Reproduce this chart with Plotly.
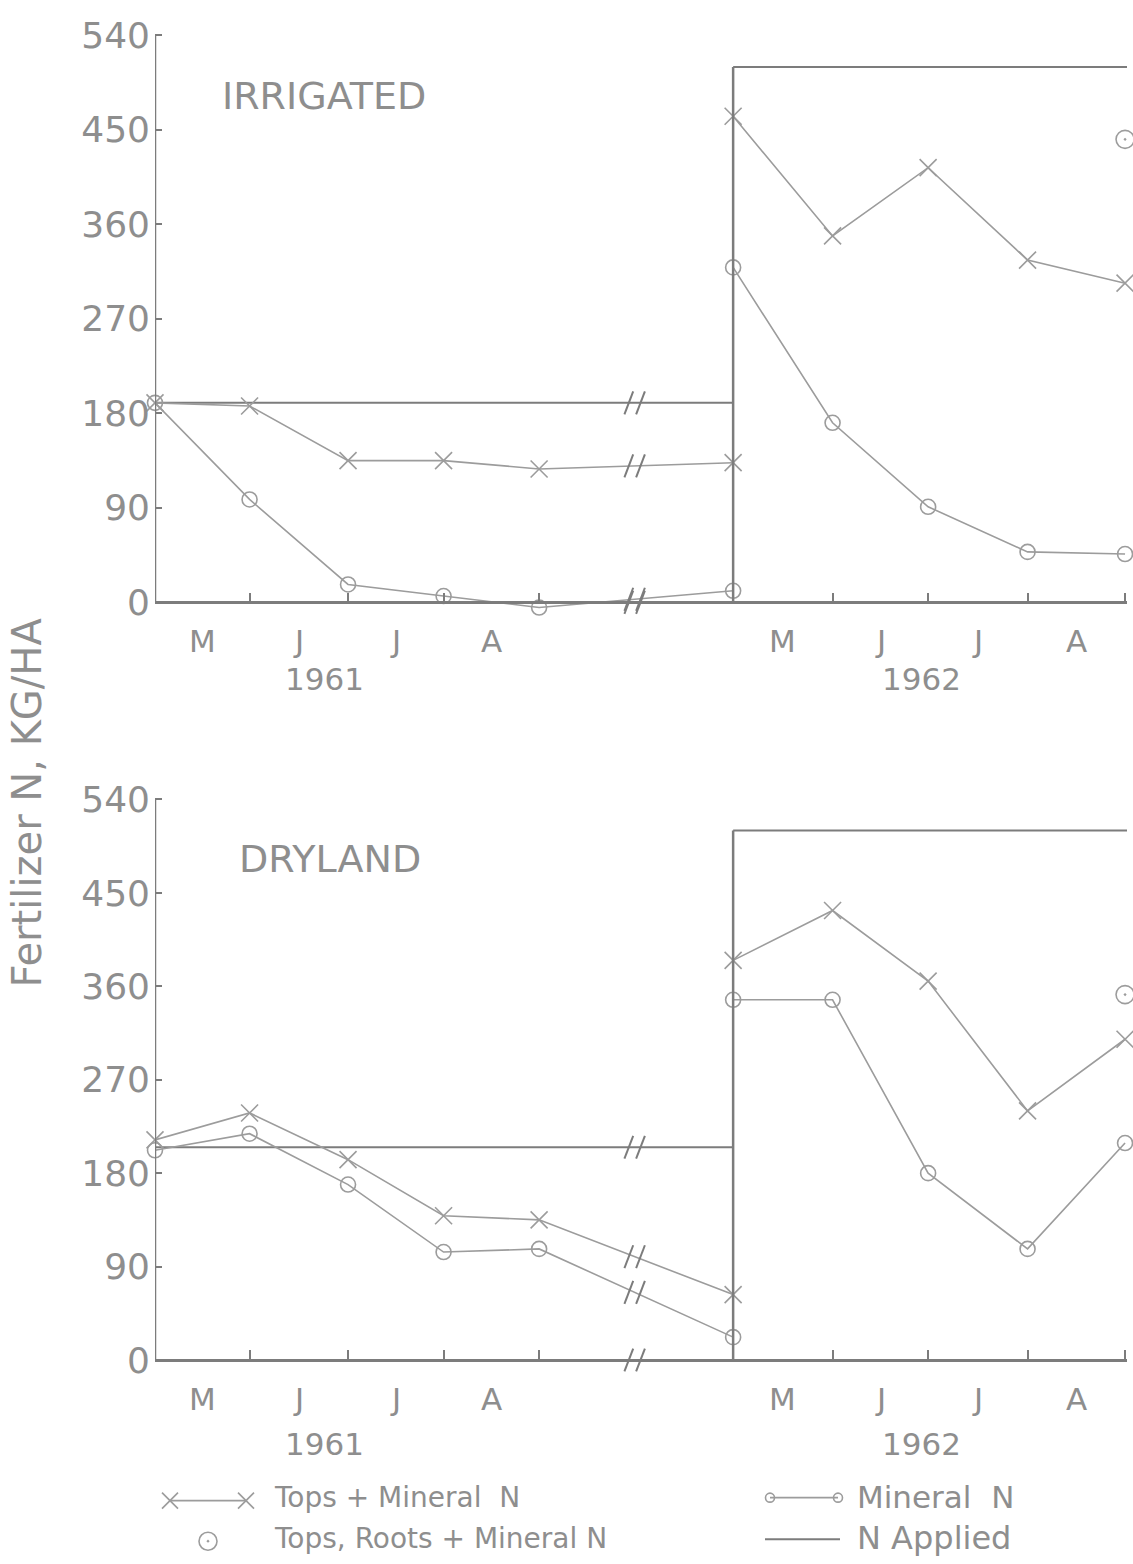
import numpy as np
import plotly.graph_objects as go

# ---------------- data ----------------
# positions along the season axis, in month units (1961 block, then 1962 block)
x_1961 = [0.0, 0.97, 1.98, 2.96, 3.94, 5.93]
x_1962 = [5.93, 6.95, 7.93, 8.95, 9.95]
month_edges_1961 = [0.0, 0.97, 1.98, 2.96, 3.94]
month_edges_1962 = [5.93, 6.95, 7.93, 8.95, 9.95]
month_labels = ["M", "J", "J", "A"]
year_labels = ["1961", "1962"]
year_label_x = [1.74, 7.86]
y_ticks = [0, 90, 180, 270, 360, 450, 540]
season_split = 5.93
x_end = 9.97
break_x = 4.92

# Irrigated plots
irr_tops_min_1961 = [190, 187, 135, 135, 127, 133]
irr_min_1961 = [190, 98, 17, 6, -5, 11]
irr_tops_min_1962 = [463, 349, 414, 326, 304]
irr_min_1962 = [319, 171, 91, 48, 46]
irr_tops_roots_min_1962 = [441]
irr_n_applied = [190, 510]

# Dryland plots
dry_tops_min_1961 = [212, 238, 193, 139, 135, 63]
dry_min_1961 = [202, 218, 169, 104, 107, 22]
dry_tops_min_1962 = [385, 433, 365, 240, 309]
dry_min_1962 = [347, 347, 180, 107, 209]
dry_tops_roots_min_1962 = [352]
dry_n_applied = [205, 510]

# ---------------- geometry ----------------
W, H = 1133, 1564
X_LEFT, X_RIGHT = 155, 1127
Y_RANGE = [-20, 545]
# pixel row of value 0 and pixels per kg/ha for each panel
PANELS = [
    dict(name="IRRIGATED", zero=593, scale=1.06,
         tm61=irr_tops_min_1961, m61=irr_min_1961,
         tm62=irr_tops_min_1962, m62=irr_min_1962,
         trm=irr_tops_roots_min_1962, napp=irr_n_applied,
         title_px=(220, 82), months_px=632, years_px=670),
    dict(name="DRYLAND", zero=1358, scale=1.048,
         tm61=dry_tops_min_1961, m61=dry_min_1961,
         tm62=dry_tops_min_1962, m62=dry_min_1962,
         trm=dry_tops_roots_min_1962, napp=dry_n_applied,
         title_px=(237, 852), months_px=1397, years_px=1443),
]

INK = "#9c9c9c"
AXIS_INK = "#7c7c7c"
TEXT_INK = "#8e8e8e"
FONT = "DejaVu Sans"

fig = go.Figure()


def py(px):
    """pixel row -> paper y"""
    return 1 - px / H


def px_x(px):
    return px / W


layout_axes = {}
shapes = []
annotations = []


def label(x, y, text, size, xref="paper", xanchor="center", **kw):
    annotations.append(dict(x=x, y=y, xref=xref, yref="paper", text=text,
                            xanchor=xanchor, yanchor="middle",
                            showarrow=False,
                            font=dict(family=FONT, size=size, color=TEXT_INK),
                            **kw))


for i, p in enumerate(PANELS, start=1):
    top_px = p["zero"] - (Y_RANGE[1]) * p["scale"]
    bot_px = p["zero"] - (Y_RANGE[0]) * p["scale"]
    xa = "xaxis" if i == 1 else f"xaxis{i}"
    ya = "yaxis" if i == 1 else f"yaxis{i}"
    xr = "x" if i == 1 else f"x{i}"
    yr = "y" if i == 1 else f"y{i}"

    edges = month_edges_1961[1:] + month_edges_1962[1:]
    layout_axes[xa] = dict(
        domain=[px_x(X_LEFT), px_x(X_RIGHT)], range=[0, x_end],
        anchor="free", position=py(p["zero"]),
        showline=True, linecolor=AXIS_INK, linewidth=2.5,
        ticks="inside", tickvals=edges, ticklen=9, tickwidth=1.5,
        tickcolor=AXIS_INK, showticklabels=False,
        showgrid=False, zeroline=False, fixedrange=True,
    )
    layout_axes[ya] = dict(
        domain=[py(bot_px), py(top_px)], range=Y_RANGE, anchor=xr,
        showline=False, ticks="inside", tickvals=y_ticks, ticklen=7,
        tickwidth=1.5, tickcolor=AXIS_INK, ticklabelstandoff=4,
        tickfont=dict(family=FONT, size=36, color=TEXT_INK),
        showgrid=False, zeroline=False, fixedrange=True,
    )

    common = dict(xaxis=xr, yaxis=yr, cliponaxis=False, showlegend=False,
                  line=dict(color=INK, width=1.6))
    x_mk = dict(symbol="x-thin-open", size=17, line=dict(color=INK, width=1.6))
    o_mk = dict(symbol="circle-open", size=15, color=INK,
                line=dict(color=INK, width=1.6))

    # N applied (step at start of 1962)
    fig.add_trace(go.Scatter(
        x=[0, season_split, None, season_split, x_end],
        y=[p["napp"][0], p["napp"][0], None, p["napp"][1], p["napp"][1]],
        mode="lines", **{**common, "line": dict(color=AXIS_INK, width=2)}))
    # tops + mineral N
    fig.add_trace(go.Scatter(x=x_1961, y=p["tm61"], mode="lines+markers",
                             marker=x_mk, **common))
    fig.add_trace(go.Scatter(x=x_1962, y=p["tm62"], mode="lines+markers",
                             marker=x_mk, **common))
    # mineral N
    fig.add_trace(go.Scatter(x=x_1961, y=p["m61"], mode="lines+markers",
                             marker=o_mk, **common))
    fig.add_trace(go.Scatter(x=x_1962, y=p["m62"], mode="lines+markers",
                             marker=o_mk, **common))
    # tops, roots + mineral N (final harvest)
    fig.add_trace(go.Scatter(
        x=x_1962[-1:], y=p["trm"], mode="markers",
        marker=dict(symbol="circle-open-dot", size=18, color=INK,
                    line=dict(color=INK, width=1.6)),
        xaxis=xr, yaxis=yr, cliponaxis=False, showlegend=False))

    # y axis line and season divider
    shapes.append(dict(type="line", xref=xr, yref=yr, x0=0, x1=0, y0=0,
                       y1=y_ticks[-1], line=dict(color=AXIS_INK, width=2.5)))
    shapes.append(dict(type="line", xref=xr, yref=yr, x0=season_split,
                       x1=season_split, y0=0, y1=p["napp"][1],
                       line=dict(color=AXIS_INK, width=2.5)))

    # axis-break marks on every line crossing the gap, and on the x axis
    for yv in [0, p["napp"][0],
               np.interp(break_x, x_1961, p["tm61"]),
               np.interp(break_x, x_1961, p["m61"])]:
        for off in (-0.06, 0.06):
            shapes.append(dict(
                type="line", xref=xr, yref=yr,
                x0=break_x + off - 0.045, x1=break_x + off + 0.045,
                y0=yv - 11, y1=yv + 11,
                line=dict(color=AXIS_INK, width=2)))

    # month and year labels
    for edges_year, yl, yx in ((month_edges_1961, year_labels[0],
                                year_label_x[0]),
                               (month_edges_1962, year_labels[1],
                                year_label_x[1])):
        mids = [(a + b) / 2 for a, b in zip(edges_year[:-1], edges_year[1:])]
        for m, lab in zip(mids, month_labels):
            label(m, py(p["months_px"]), lab, 31, xref=xr)
        label(yx, py(p["years_px"]), yl, 31, xref=xr)

    # panel title
    label(px_x(p["title_px"][0]), py(p["title_px"][1]), p["name"], 38,
          xanchor="left")

# shared y-axis title
label(px_x(27), py(795), "Fertilizer N, KG/HA", 40, textangle=-90)

# ---------------- key ----------------
layout_axes["xaxis3"] = dict(domain=[0, 1], range=[0, W], visible=False,
                             fixedrange=True, anchor="y3")
layout_axes["yaxis3"] = dict(domain=[0, 1], range=[H, 0], visible=False,
                             fixedrange=True, anchor="x3")
key = dict(xaxis="x3", yaxis="y3", showlegend=False, cliponaxis=False,
           line=dict(color=INK, width=1.6))
fig.add_trace(go.Scatter(x=[170, 246], y=[1500, 1500], mode="lines+markers",
                         marker=dict(symbol="x-thin-open", size=16,
                                     line=dict(color=INK, width=1.6)), **key))
fig.add_trace(go.Scatter(x=[770, 838], y=[1497, 1497], mode="lines+markers",
                         marker=dict(symbol="circle-open", size=9, color=INK,
                                     line=dict(color=INK, width=1.6)), **key))
fig.add_trace(go.Scatter(x=[208], y=[1541], mode="markers",
                         marker=dict(symbol="circle-open-dot", size=18,
                                     color=INK,
                                     line=dict(color=INK, width=1.6)), **key))
fig.add_trace(go.Scatter(x=[765, 840], y=[1539, 1539], mode="lines",
                         **{**key, "line": dict(color=AXIS_INK, width=2)}))
for tx, x0, y0, fs in (("Tops + Mineral  N", 272, 1497, 28),
                       ("Tops, Roots + Mineral N", 272, 1538, 28),
                       ("Mineral  N", 855, 1496, 31),
                       ("N Applied", 855, 1538, 32)):
    label(px_x(x0), py(y0), tx, fs, xanchor="left")

fig.update_layout(
    width=W, height=H, margin=dict(l=0, r=0, t=0, b=0),
    paper_bgcolor="white", plot_bgcolor="rgba(0,0,0,0)",
    shapes=shapes, annotations=annotations, **layout_axes,
)

fig.write_html("out.html")
